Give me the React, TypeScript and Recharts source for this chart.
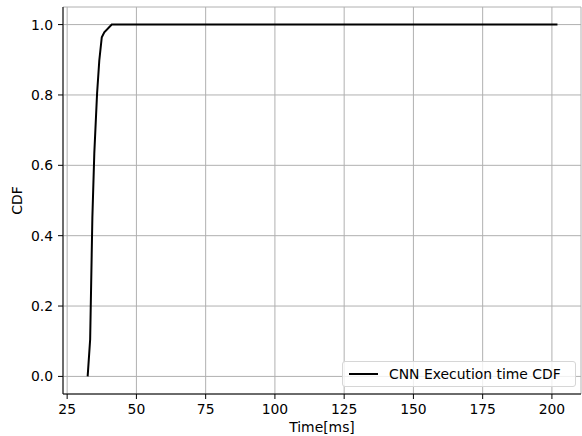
import {
  LineChart, Line, XAxis, YAxis, CartesianGrid, Legend,
} from 'recharts'

const times = [32.4, 33.3, 34.1, 34.8, 35.8, 36.6, 37.5, 38.4, 41.1, 202]
const cdf   = [0, 0.105, 0.45, 0.634, 0.804, 0.898, 0.964, 0.978, 1.0, 1.0]
const xTicks = [25, 50, 75, 100, 125, 150, 175, 200]
const yTicks = [0, 0.2, 0.4, 0.6, 0.8, 1.0]
const seriesName = 'CNN Execution time CDF'

const data = times.map((t, i) => ({ time: t, cdf: cdf[i] }))

const font = '"DejaVu Sans", sans-serif'
const tickStyle = { fontSize: 13.9, fill: '#000', fontFamily: font }

function LegendBox() {
  return (
    <div style={{
      position: 'absolute', left: 342, top: 361, width: 234, height: 26,
      boxSizing: 'border-box', border: '1px solid #d6d6d6', borderRadius: 3,
      background: 'rgba(255,255,255,0.8)', display: 'flex', alignItems: 'center',
      fontFamily: font, fontSize: 13.9, color: '#000',
    }}>
      <div style={{ width: 29, height: 2, background: '#000', marginLeft: 6, marginRight: 11 }} />
      <span>{seriesName}</span>
    </div>
  )
}

export default function App() {
  return (
    <div style={{ position: 'absolute', left: 0, top: 0, width: 582, height: 436, background: '#fff' }}>
      <LineChart width={582} height={436} data={data}
        margin={{ top: 7, right: 1, bottom: 0, left: 0 }}>
        <CartesianGrid stroke="#b0b0b0" strokeWidth={1} />
        <XAxis
          dataKey="time" type="number" domain={[23.5, 210.5]} ticks={xTicks}
          allowDataOverflow height={42}
          stroke="#000" tick={tickStyle} tickSize={5} tickMargin={5}
          tickLine={{ stroke: '#000' }}
          label={({ viewBox }: any) => (
            <text x={viewBox.x + viewBox.width / 2} y={432} textAnchor="middle"
              fontSize={13.9} fontFamily={font} fill="#000">Time[ms]</text>
          )}
        />
        <XAxis xAxisId="top" orientation="top" dataKey="time" type="number"
          domain={[23.5, 210.5]} height={0} tick={false} tickLine={false} stroke="#000" />
        <YAxis
          type="number" domain={[-0.05, 1.05]} ticks={yTicks} allowDataOverflow width={63}
          stroke="#000" tick={tickStyle} tickSize={5} tickMargin={5}
          tickFormatter={(v: number) => v.toFixed(1)}
          label={({ viewBox }: any) => {
            const cy = viewBox.y + viewBox.height / 2
            return (
              <text x={17} y={cy} textAnchor="middle" dominantBaseline="central"
                transform={`rotate(-90, 17, ${cy})`}
                fontSize={13.9} fontFamily={font} fill="#000">CDF</text>
            )
          }}
        />
        <YAxis yAxisId="right" orientation="right" domain={[-0.05, 1.05]} width={0}
          tick={false} tickLine={false} stroke="#000" />
        <Legend content={() => <LegendBox />} wrapperStyle={{ position: 'absolute', left: 0, top: 0 }} />
        <Line type="linear" dataKey="cdf" name={seriesName} stroke="#000" strokeWidth={2}
          dot={false} activeDot={false} isAnimationActive={false} />
      </LineChart>
    </div>
  )
}
